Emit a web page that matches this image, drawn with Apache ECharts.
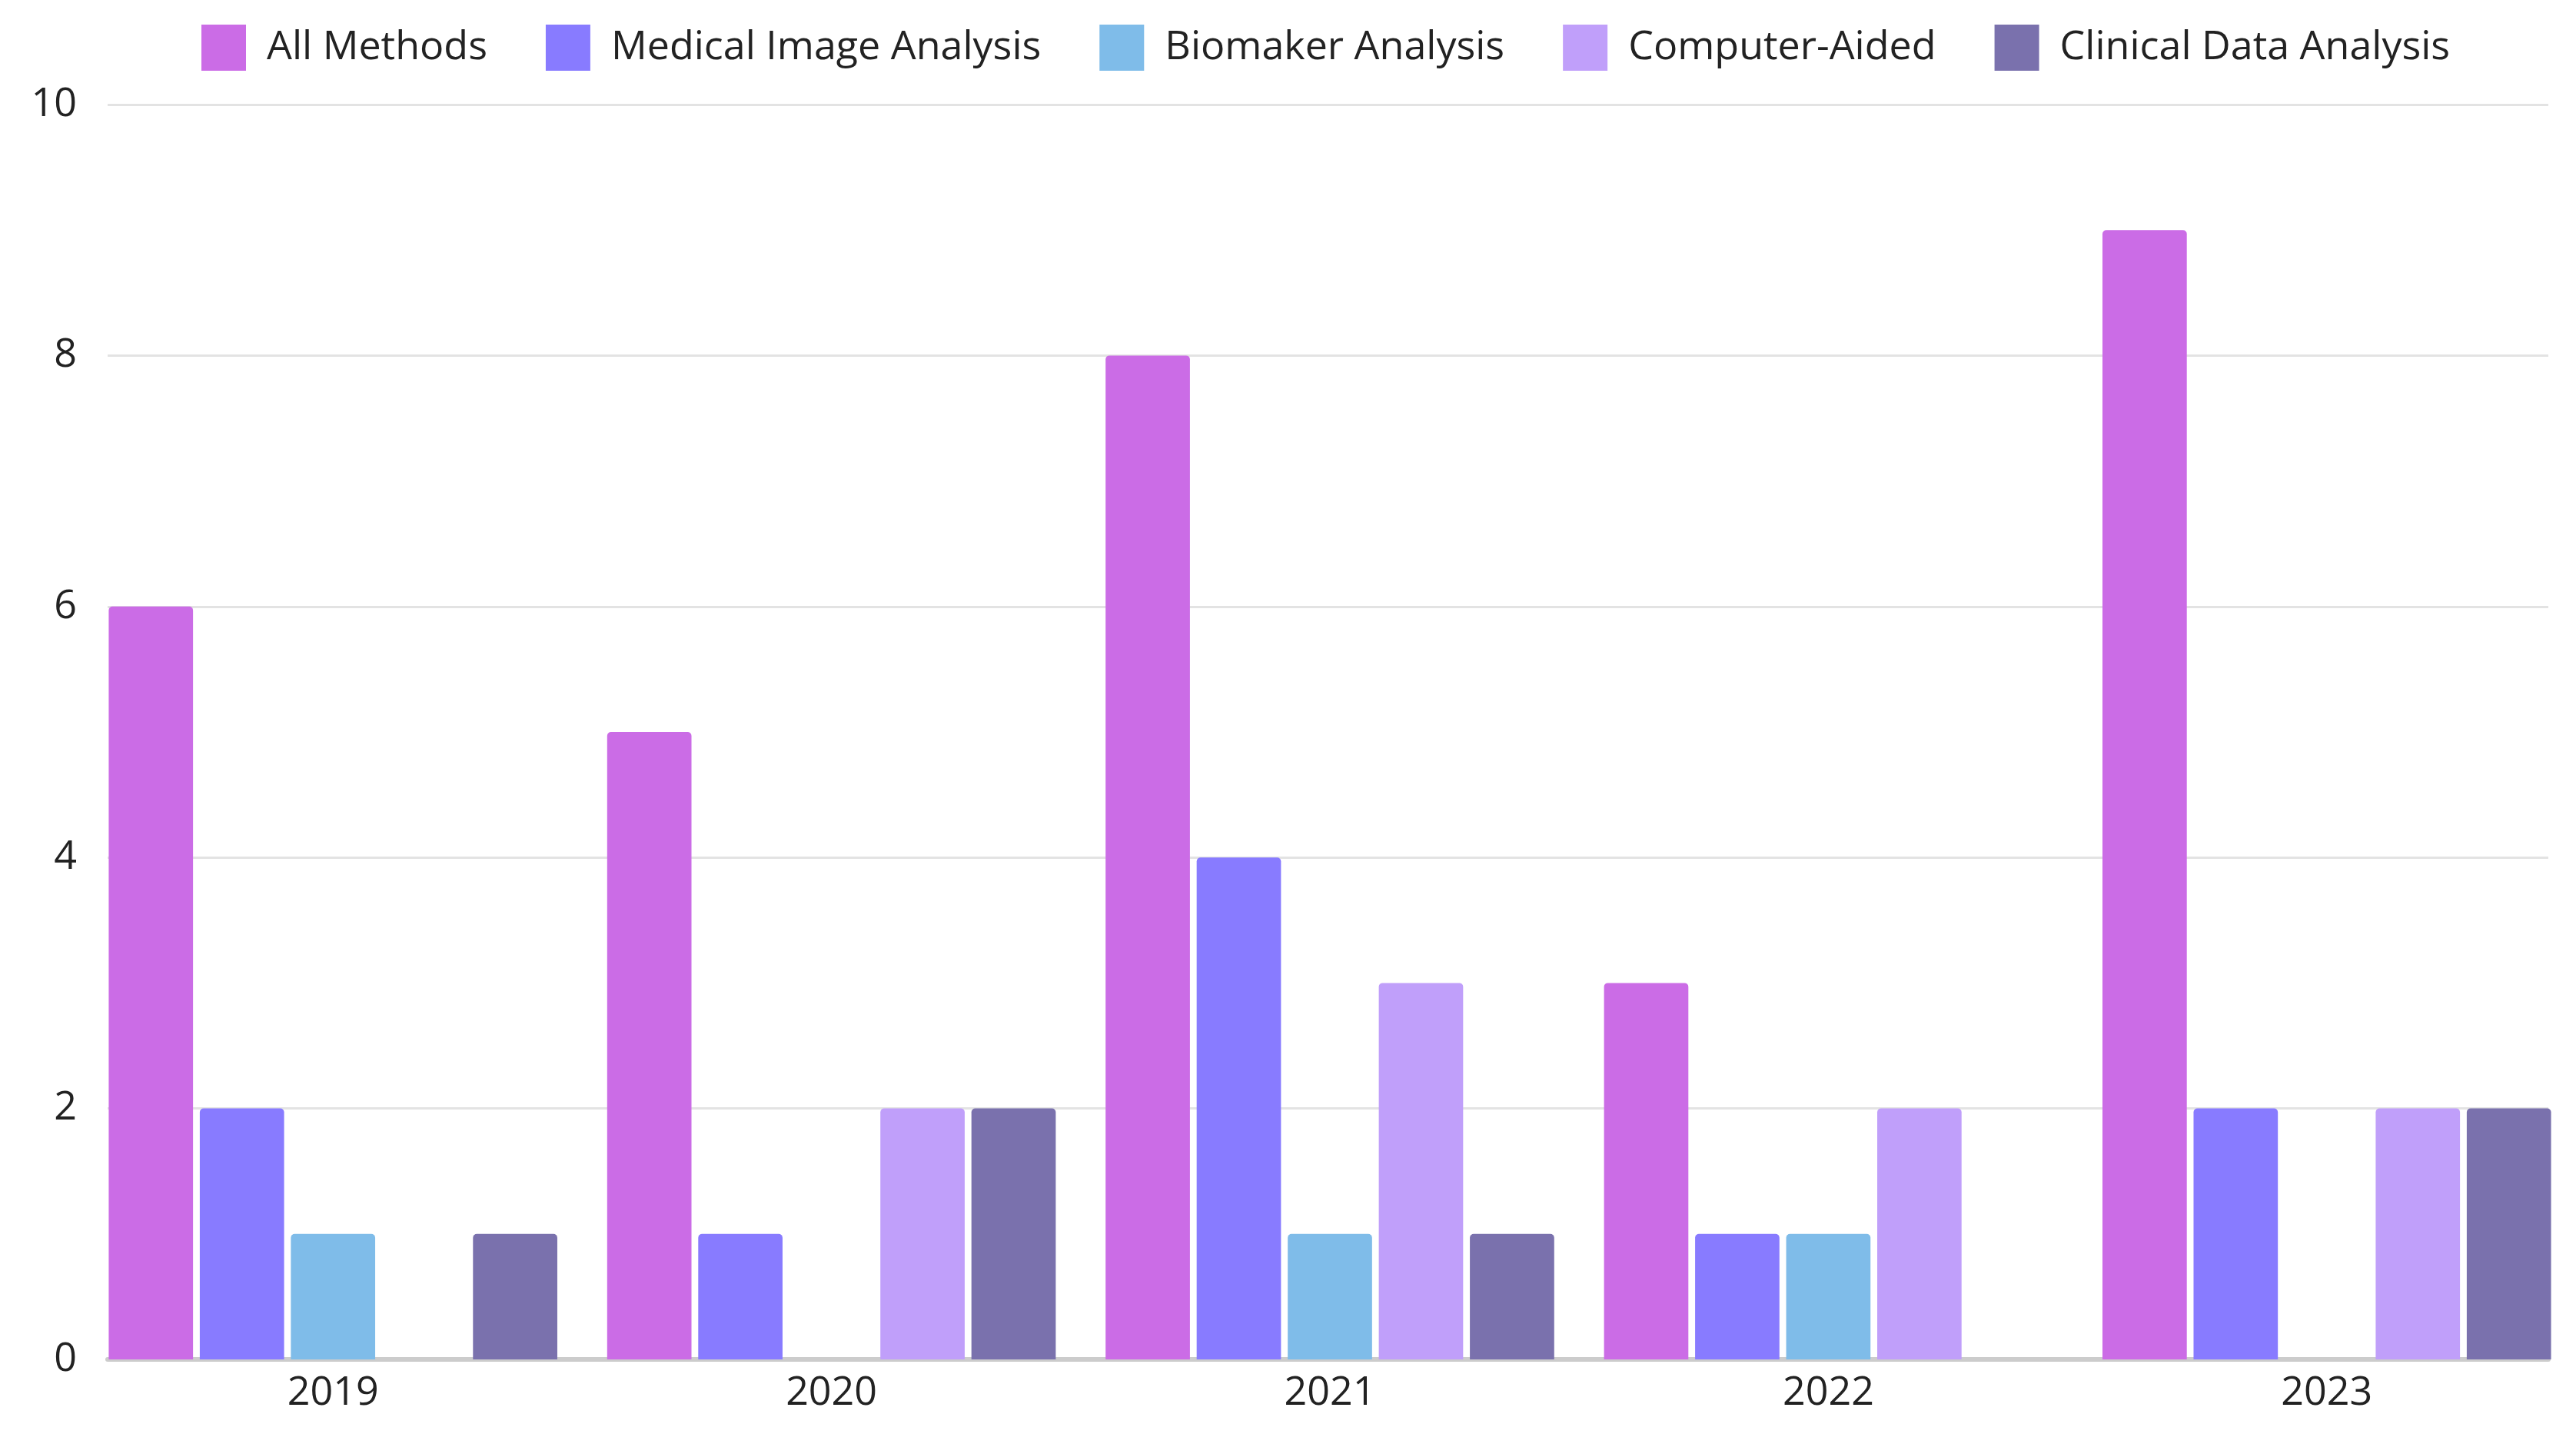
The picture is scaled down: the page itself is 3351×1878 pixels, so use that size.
<!DOCTYPE html>
<html><head><meta charset="utf-8">
<script src="https://cdn.jsdelivr.net/npm/echarts@6/dist/echarts.min.js"></script>
<style>html,body{margin:0;padding:0;background:#fff}#c{width:3351px;height:1878px}</style>
</head><body><div id="c"></div>
<script>
const years = ['2019', '2020', '2021', '2022', '2023'];
const seriesNames = ['All Methods', 'Medical Image Analysis', 'Biomaker Analysis', 'Computer-Aided', 'Clinical Data Analysis'];
const allMethods = [6, 5, 8, 3, 9];
const medicalImage = [2, 1, 4, 1, 2];
const biomaker = [1, 0, 1, 1, 0];
const computerAided = [0, 2, 3, 2, 2];
const clinicalData = [1, 2, 1, 0, 2];
const yTicks = [0, 2, 4, 6, 8, 10];

const colors = ['#CB6CE6', '#887BFF', '#7FBCE9', '#C09FFA', '#7A71AD'];
const values = [allMethods, medicalImage, biomaker, computerAided, clinicalData];
const FONT = '"Open Sans", sans-serif';

const chart = echarts.init(document.getElementById('c'), null, {renderer: 'canvas'});
chart.setOption({
  animation: false,
  backgroundColor: '#fff',
  color: colors,
  legend: {
    top: 27, left: 257,
    itemWidth: 58, itemHeight: 60, itemGap: 76,
    icon: 'rect',
    data: seriesNames,
    textStyle: {fontFamily: FONT, fontSize: 52, color: '#222', padding: [0, 0, 0, 22]}
  },
  grid: [
    {left: 140, right: 36, top: 136, bottom: 110},
    {left: 109, right: -14, top: 136, bottom: 110}
  ],
  xAxis: [
    {type: 'category', gridIndex: 0, data: years, axisTick: {show: false},
     axisLabel: {show: false},
     axisLine: {lineStyle: {color: '#cccccc', width: 6}}},
    {type: 'category', gridIndex: 1, data: years, axisTick: {show: false},
     axisLine: {show: false},
     axisLabel: {fontFamily: FONT, fontSize: 52, color: '#222', margin: 18}}
  ],
  yAxis: [
    {type: 'value', gridIndex: 0, min: yTicks[0], max: yTicks[yTicks.length - 1], interval: 2,
     axisLine: {show: false}, axisTick: {show: false},
     axisLabel: {fontFamily: FONT, fontSize: 52, color: '#222', margin: 40},
     splitLine: {lineStyle: {color: '#e3e3e3', width: 3}}},
    {type: 'value', gridIndex: 1, min: yTicks[0], max: yTicks[yTicks.length - 1], interval: 2,
     show: false, splitLine: {show: false}}
  ],
  series: seriesNames.map((n, i) => ({
    name: n, type: 'bar', xAxisIndex: 1, yAxisIndex: 1,
    data: values[i],
    barGap: '8%', barCategoryGap: '10%',
    itemStyle: {color: colors[i], borderRadius: [5, 5, 0, 0]}
  }))
});
</script></body></html>
